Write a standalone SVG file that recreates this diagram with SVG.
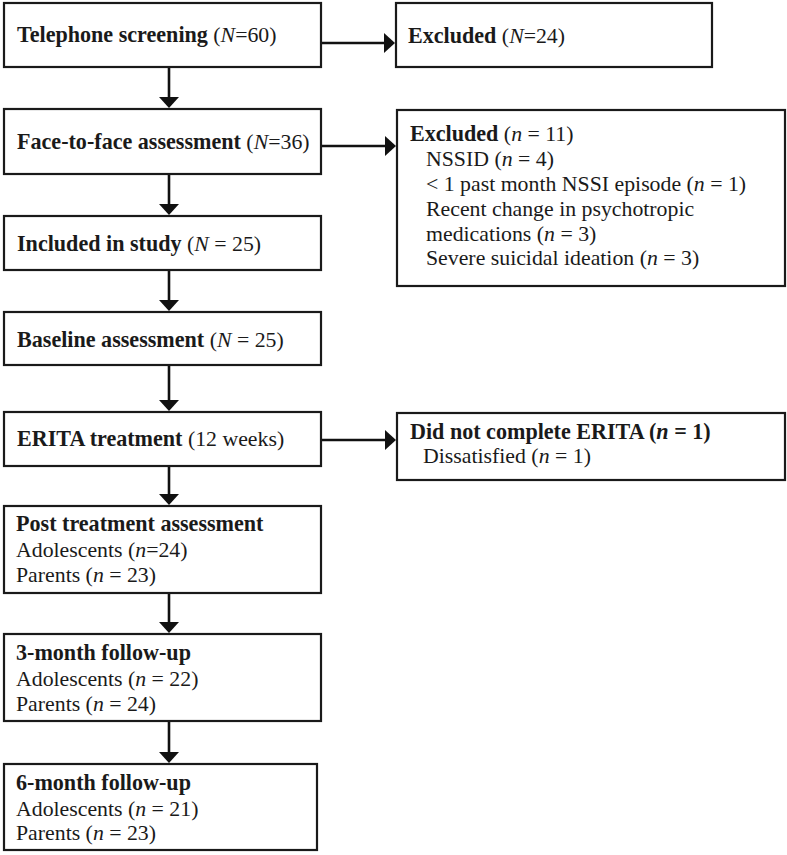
<svg xmlns="http://www.w3.org/2000/svg" width="787" height="855" viewBox="0 0 787 855">
<style>
.box{fill:#fff;stroke:#1a1a1a;stroke-width:2.2}
.t{font-family:"Liberation Serif","Times New Roman",serif;font-size:21.8px;fill:#1a1a1a}
.b{font-weight:bold;font-size:22.1px}
.i{font-style:italic}
.c{stroke:#111;stroke-width:2.6;fill:none;marker-end:url(#ah)}
</style>
<defs>
<marker id="ah" markerUnits="userSpaceOnUse" viewBox="0 0 11 20" markerWidth="11" markerHeight="20" refX="9" refY="10" orient="auto">
<path d="M0,0 L11,10 L0,20 Z" fill="#111"/>
</marker>
</defs>
<rect width="787" height="855" fill="#fff"/>
<g id="connectors">
<line class="c" x1="169" y1="67" x2="169" y2="106"/>
<line class="c" x1="169" y1="174" x2="169" y2="213"/>
<line class="c" x1="169" y1="270" x2="169" y2="309"/>
<line class="c" x1="169" y1="365" x2="169" y2="409"/>
<line class="c" x1="169" y1="466" x2="169" y2="503"/>
<line class="c" x1="169" y1="593" x2="169" y2="631"/>
<line class="c" x1="169" y1="721" x2="169" y2="761"/>
<line class="c" x1="321" y1="43" x2="393" y2="43"/>
<line class="c" x1="321" y1="146" x2="394" y2="146"/>
<line class="c" x1="321" y1="440" x2="394" y2="440"/>
</g>
<g id="n1">
<rect class="box" x="4" y="3" width="317" height="64"/>
<text class="t" x="17" y="42"><tspan class="b">Telephone screening</tspan> (<tspan class="i">N</tspan>=60)</text>
</g>
<g id="n2">
<rect class="box" x="4" y="109" width="317" height="65"/>
<text class="t" x="17" y="149"><tspan class="b">Face-to-face assessment</tspan> (<tspan class="i">N</tspan>=36)</text>
</g>
<g id="n3">
<rect class="box" x="4" y="216" width="317" height="54"/>
<text class="t" x="17" y="251"><tspan class="b">Included in study</tspan> (<tspan class="i">N</tspan> = 25)</text>
</g>
<g id="n4">
<rect class="box" x="4" y="312" width="317" height="53"/>
<text class="t" x="17" y="347"><tspan class="b">Baseline assessment</tspan> (<tspan class="i">N</tspan> = 25)</text>
</g>
<g id="n5">
<rect class="box" x="4" y="412" width="317" height="54"/>
<text class="t" x="17" y="446"><tspan class="b">ERITA treatment</tspan> (12 weeks)</text>
</g>
<g id="n6">
<rect class="box" x="4" y="506" width="317" height="87"/>
<text class="t" x="16" y="531"><tspan class="b">Post treatment assessment</tspan></text>
<text class="t" x="16" y="557">Adolescents (<tspan class="i">n</tspan>=24)</text>
<text class="t" x="16" y="582">Parents (<tspan class="i">n</tspan> = 23)</text>
</g>
<g id="n7">
<rect class="box" x="4" y="634" width="317" height="87"/>
<text class="t" x="16" y="660"><tspan class="b">3-month follow-up</tspan></text>
<text class="t" x="16" y="686">Adolescents (<tspan class="i">n</tspan> = 22)</text>
<text class="t" x="16" y="711">Parents (<tspan class="i">n</tspan> = 24)</text>
</g>
<g id="n8">
<rect class="box" x="4" y="764" width="313" height="86"/>
<text class="t" x="16" y="790"><tspan class="b">6-month follow-up</tspan></text>
<text class="t" x="16" y="816">Adolescents (<tspan class="i">n</tspan> = 21)</text>
<text class="t" x="16" y="840">Parents (<tspan class="i">n</tspan> = 23)</text>
</g>
<g id="e1">
<rect class="box" x="396" y="3" width="316" height="64"/>
<text class="t" x="408" y="43"><tspan class="b">Excluded</tspan> (<tspan class="i">N</tspan>=24)</text>
</g>
<g id="e2">
<rect class="box" x="397" y="110" width="388" height="176"/>
<text class="t" x="410" y="141"><tspan class="b">Excluded</tspan> (<tspan class="i">n</tspan> = 11)</text>
<text class="t" x="426" y="166">NSSID (<tspan class="i">n</tspan> = 4)</text>
<text class="t" x="426" y="191">&lt; 1 past month NSSI episode (<tspan class="i">n</tspan> = 1)</text>
<text class="t" x="426" y="216">Recent change in psychotropic</text>
<text class="t" x="426" y="241">medications (<tspan class="i">n</tspan> = 3)</text>
<text class="t" x="426" y="265">Severe suicidal ideation (<tspan class="i">n</tspan> = 3)</text>
</g>
<g id="e3">
<rect class="box" x="397" y="413" width="388" height="67"/>
<text class="t b" x="410" y="439">Did not complete ERITA (<tspan class="i">n</tspan> = 1)</text>
<text class="t" x="423" y="463">Dissatisfied (<tspan class="i">n</tspan> = 1)</text>
</g>
</svg>
